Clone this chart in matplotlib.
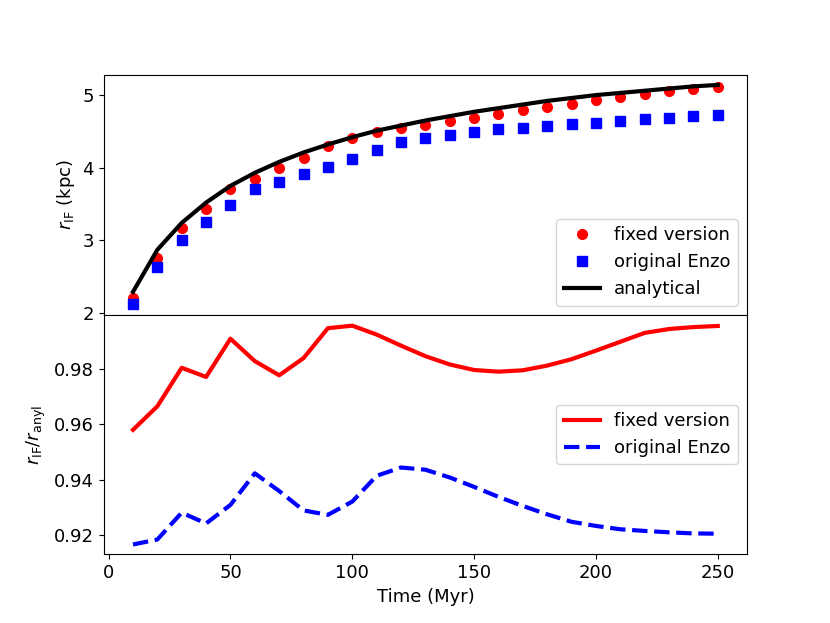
import matplotlib
matplotlib.use("Agg")
import matplotlib.pyplot as plt
import numpy as np

plt.rcParams['font.size'] = 13

time = np.arange(10, 251, 10)

# r_IF in kpc
r_fixed = [2.21, 2.76, 3.17, 3.43, 3.70, 3.85, 3.99, 4.14, 4.30, 4.41, 4.49, 4.54, 4.595,
           4.64, 4.69, 4.74, 4.79, 4.83, 4.88, 4.93, 4.98, 5.02, 5.06, 5.08, 5.11]
r_enzo = [2.12, 2.63, 3.00, 3.25, 3.48, 3.70, 3.81, 3.91, 4.01, 4.12, 4.25, 4.35, 4.405,
          4.45, 4.49, 4.53, 4.55, 4.58, 4.60, 4.62, 4.65, 4.67, 4.69, 4.71, 4.73]
r_anyl = [2.29, 2.87, 3.24, 3.52, 3.75, 3.93, 4.08, 4.21, 4.32, 4.42, 4.51, 4.58, 4.65,
          4.71, 4.77, 4.82, 4.87, 4.92, 4.96, 5.00, 5.03, 5.06, 5.09, 5.12, 5.14]

# ratios r_IF / r_anyl
ratio_fixed = [0.958, 0.9665, 0.9804, 0.9771, 0.9909, 0.9828, 0.9777, 0.9839, 0.9947, 0.9956,
               0.9924, 0.9884, 0.9846, 0.9816, 0.9796, 0.9790, 0.9795, 0.9812, 0.9835, 0.9866,
               0.9898, 0.9930, 0.9944, 0.9951, 0.9955]
ratio_enzo = [0.9166, 0.9184, 0.9281, 0.9242, 0.9309, 0.9423, 0.9359, 0.9289, 0.9273, 0.9321,
              0.9414, 0.9444, 0.9436, 0.9408, 0.9374, 0.9338, 0.9305, 0.9275, 0.9248, 0.9233,
              0.9221, 0.9215, 0.9210, 0.9206, 0.9205]

fig, (ax1, ax2) = plt.subplots(2, 1, sharex=True, figsize=(8.3, 6.23), dpi=100)
fig.subplots_adjust(hspace=0)

ax1.plot(time, r_fixed, 'o', color='red', ms=7, label='fixed version')
ax1.plot(time, r_enzo, 's', color='blue', ms=7, label='original Enzo')
ax1.plot(time, r_anyl, '-', color='black', lw=3, label='analytical')
ax1.set_ylabel(r'$r_{\rm IF}$ (kpc)')
ax1.set_ylim(1.977, 5.28)
ax1.set_yticks([2, 3, 4, 5])
ax1.legend(loc='lower right')

ax2.plot(time, ratio_fixed, '-', color='red', lw=3, label='fixed version')
ax2.plot(time, ratio_enzo, '--', color='blue', lw=3, label='original Enzo')
ax2.set_ylabel(r'$r_{\rm IF}/r_{\rm anyl}$')
ax2.set_xlabel('Time (Myr)')
ax2.set_ylim(0.913, 0.9996)
ax2.set_yticks([0.92, 0.94, 0.96, 0.98])
ax2.set_xlim(-2, 262)
ax2.legend(loc='center right')

fig.savefig('out.png')
